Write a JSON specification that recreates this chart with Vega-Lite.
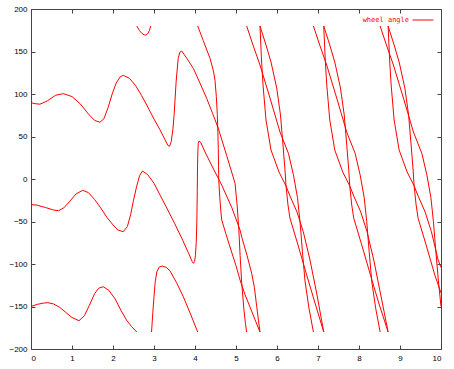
{
"$schema": "https://vega.github.io/schema/vega-lite/v6.json",
"width": 410, "height": 340,
"autosize": {"type": "none"},
"padding": {"left": 31, "top": 9, "right": 13, "bottom": 20},
"background": "white",
"config": {
  "view": {"stroke": "#444", "strokeWidth": 1},
  "axis": {"domain": false, "grid": false, "ticks": true, "tickColor": "#444", "tickSize": -4, "labelFont": "Liberation Sans", "labelFontSize": 8, "labelColor": "#000", "title": null}
},
"data": {"values": [
{"s":"a0","t":0,"a":89.8},{"s":"a0","t":0.1,"a":88.6},{"s":"a0","t":0.22,"a":88},{"s":"a0","t":0.4,"a":92},{"s":"a0","t":0.6,"a":98.5},{"s":"a0","t":0.79,"a":100.4},{"s":"a0","t":1.0,"a":97},{"s":"a0","t":1.2,"a":88.5},{"s":"a0","t":1.4,"a":76.5},{"s":"a0","t":1.55,"a":69},{"s":"a0","t":1.68,"a":66.7},{"s":"a0","t":1.78,"a":71},{"s":"a0","t":1.88,"a":84},{"s":"a0","t":1.98,"a":100},{"s":"a0","t":2.08,"a":113},{"s":"a0","t":2.17,"a":120},{"s":"a0","t":2.25,"a":122},{"s":"a0","t":2.4,"a":118.5},{"s":"a0","t":2.55,"a":110},{"s":"a0","t":2.7,"a":98},{"s":"a0","t":2.85,"a":84.5},{"s":"a0","t":3.0,"a":70.5},{"s":"a0","t":3.15,"a":57.6},{"s":"a0","t":3.27,"a":46},{"s":"a0","t":3.34,"a":39.5},{"s":"a0","t":3.38,"a":38.5},{"s":"a0","t":3.42,"a":44},{"s":"a0","t":3.46,"a":58},{"s":"a0","t":3.49,"a":75},{"s":"a0","t":3.54,"a":114.5},{"s":"a0","t":3.59,"a":142},{"s":"a0","t":3.63,"a":149},{"s":"a0","t":3.676,"a":150.6},{"s":"a0","t":3.8,"a":142},{"s":"a0","t":3.959,"a":130.2},{"s":"a0","t":4.12,"a":113},{"s":"a0","t":4.285,"a":94.9},{"s":"a0","t":4.43,"a":77},{"s":"a0","t":4.568,"a":59.6},{"s":"a0","t":4.77,"a":28},{"s":"a0","t":4.976,"a":-5},{"s":"a0","t":5.03,"a":-32},{"s":"a0","t":5.07,"a":-60},{"s":"a0","t":5.1,"a":-90},{"s":"a0","t":5.139,"a":-122},{"s":"a0","t":5.19,"a":-152},{"s":"a0","t":5.23,"a":-170},{"s":"a0","t":5.26,"a":-180},
{"s":"a1","t":5.26,"a":180},{"s":"a1","t":5.415,"a":157.6},{"s":"a1","t":5.585,"a":134.1},{"s":"a1","t":5.829,"a":95.3},{"s":"a1","t":6.073,"a":55.3},{"s":"a1","t":6.28,"a":30},{"s":"a1","t":6.4,"a":5},{"s":"a1","t":6.5,"a":-22},{"s":"a1","t":6.561,"a":-50},{"s":"a1","t":6.62,"a":-85},{"s":"a1","t":6.683,"a":-120},{"s":"a1","t":6.78,"a":-152},{"s":"a1","t":6.888,"a":-180},
{"s":"a2","t":6.888,"a":180},{"s":"a2","t":7.042,"a":157.6},{"s":"a2","t":7.212,"a":134.1},{"s":"a2","t":7.456,"a":95.3},{"s":"a2","t":7.7,"a":55.3},{"s":"a2","t":7.907,"a":30},{"s":"a2","t":8.027,"a":5},{"s":"a2","t":8.127,"a":-22},{"s":"a2","t":8.188,"a":-50},{"s":"a2","t":8.247,"a":-85},{"s":"a2","t":8.31,"a":-120},{"s":"a2","t":8.407,"a":-152},{"s":"a2","t":8.515,"a":-180},
{"s":"a3","t":8.515,"a":180},{"s":"a3","t":8.669,"a":157.6},{"s":"a3","t":8.839,"a":134.1},{"s":"a3","t":9.083,"a":95.3},{"s":"a3","t":9.327,"a":55.3},{"s":"a3","t":9.534,"a":30},{"s":"a3","t":9.654,"a":5},{"s":"a3","t":9.754,"a":-22},{"s":"a3","t":9.815,"a":-50},{"s":"a3","t":9.874,"a":-85},{"s":"a3","t":9.937,"a":-120},{"s":"a3","t":10,"a":-150},
{"s":"b0","t":0,"a":-30},{"s":"b0","t":0.15,"a":-30.8},{"s":"b0","t":0.35,"a":-33.5},{"s":"b0","t":0.55,"a":-36.5},{"s":"b0","t":0.67,"a":-37.3},{"s":"b0","t":0.8,"a":-34},{"s":"b0","t":0.95,"a":-26},{"s":"b0","t":1.1,"a":-17.5},{"s":"b0","t":1.26,"a":-13.3},{"s":"b0","t":1.4,"a":-16},{"s":"b0","t":1.55,"a":-24},{"s":"b0","t":1.7,"a":-34},{"s":"b0","t":1.85,"a":-45},{"s":"b0","t":2.0,"a":-54},{"s":"b0","t":2.12,"a":-60},{"s":"b0","t":2.25,"a":-62},{"s":"b0","t":2.35,"a":-56},{"s":"b0","t":2.43,"a":-42},{"s":"b0","t":2.5,"a":-25},{"s":"b0","t":2.58,"a":-8},{"s":"b0","t":2.65,"a":4},{"s":"b0","t":2.72,"a":9.4},{"s":"b0","t":2.85,"a":5},{"s":"b0","t":3.0,"a":-5},{"s":"b0","t":3.146,"a":-18.8},{"s":"b0","t":3.3,"a":-33},{"s":"b0","t":3.5,"a":-52},{"s":"b0","t":3.7,"a":-72},{"s":"b0","t":3.85,"a":-88},{"s":"b0","t":3.93,"a":-97},{"s":"b0","t":3.96,"a":-99.2},{"s":"b0","t":3.99,"a":-97},{"s":"b0","t":4.01,"a":-90},{"s":"b0","t":4.03,"a":-75},{"s":"b0","t":4.045,"a":-50},{"s":"b0","t":4.055,"a":-15},{"s":"b0","t":4.062,"a":15},{"s":"b0","t":4.07,"a":32},{"s":"b0","t":4.08,"a":42},{"s":"b0","t":4.1,"a":44.7},{"s":"b0","t":4.14,"a":43},{"s":"b0","t":4.244,"a":31.8},{"s":"b0","t":4.439,"a":12.9},{"s":"b0","t":4.651,"a":-7.1},{"s":"b0","t":4.902,"a":-34.1},{"s":"b0","t":5.098,"a":-60},{"s":"b0","t":5.15,"a":-70},{"s":"b0","t":5.27,"a":-90},{"s":"b0","t":5.383,"a":-111},{"s":"b0","t":5.45,"a":-128},{"s":"b0","t":5.505,"a":-150},{"s":"b0","t":5.55,"a":-167},{"s":"b0","t":5.585,"a":-180},
{"s":"b1","t":5.585,"a":180},{"s":"b1","t":5.622,"a":140},{"s":"b1","t":5.659,"a":110.6},{"s":"b1","t":5.732,"a":69.4},{"s":"b1","t":5.854,"a":34.1},{"s":"b1","t":6.049,"a":8.2},{"s":"b1","t":6.22,"a":-8.2},{"s":"b1","t":6.317,"a":-20},{"s":"b1","t":6.488,"a":-38.8},{"s":"b1","t":6.641,"a":-62},{"s":"b1","t":6.805,"a":-95.3},{"s":"b1","t":6.976,"a":-136.5},{"s":"b1","t":7.14,"a":-180},
{"s":"b2","t":7.14,"a":180},{"s":"b2","t":7.177,"a":140},{"s":"b2","t":7.214,"a":110.6},{"s":"b2","t":7.287,"a":69.4},{"s":"b2","t":7.409,"a":34.1},{"s":"b2","t":7.604,"a":8.2},{"s":"b2","t":7.775,"a":-8.2},{"s":"b2","t":7.872,"a":-20},{"s":"b2","t":8.043,"a":-38.8},{"s":"b2","t":8.196,"a":-62},{"s":"b2","t":8.36,"a":-95.3},{"s":"b2","t":8.531,"a":-136.5},{"s":"b2","t":8.71,"a":-180},
{"s":"b3","t":8.71,"a":180},{"s":"b3","t":8.747,"a":140},{"s":"b3","t":8.784,"a":110.6},{"s":"b3","t":8.857,"a":69.4},{"s":"b3","t":8.979,"a":34.1},{"s":"b3","t":9.174,"a":8.2},{"s":"b3","t":9.345,"a":-8.2},{"s":"b3","t":9.442,"a":-20},{"s":"b3","t":9.613,"a":-38.8},{"s":"b3","t":9.766,"a":-62},{"s":"b3","t":9.93,"a":-95.3},{"s":"b3","t":10,"a":-104},
{"s":"c0","t":0,"a":-150},{"s":"c0","t":0.15,"a":-147.5},{"s":"c0","t":0.3,"a":-146},{"s":"c0","t":0.41,"a":-145.5},{"s":"c0","t":0.55,"a":-147},{"s":"c0","t":0.7,"a":-151},{"s":"c0","t":0.85,"a":-157},{"s":"c0","t":1.0,"a":-163},{"s":"c0","t":1.17,"a":-166.7},{"s":"c0","t":1.3,"a":-161},{"s":"c0","t":1.42,"a":-149},{"s":"c0","t":1.55,"a":-135},{"s":"c0","t":1.65,"a":-128.5},{"s":"c0","t":1.76,"a":-126.7},{"s":"c0","t":1.9,"a":-131},{"s":"c0","t":2.05,"a":-141},{"s":"c0","t":2.2,"a":-155},{"s":"c0","t":2.33,"a":-166},{"s":"c0","t":2.45,"a":-173.5},{"s":"c0","t":2.58,"a":-180},
{"s":"c1","t":2.58,"a":180},{"s":"c1","t":2.64,"a":175},{"s":"c1","t":2.7,"a":171.5},{"s":"c1","t":2.76,"a":169.6},{"s":"c1","t":2.8,"a":169.3},{"s":"c1","t":2.85,"a":171},{"s":"c1","t":2.89,"a":175},{"s":"c1","t":2.92,"a":180},
{"s":"c2","t":2.94,"a":-180},{"s":"c2","t":2.97,"a":-158},{"s":"c2","t":3.0,"a":-138},{"s":"c2","t":3.03,"a":-121},{"s":"c2","t":3.07,"a":-109},{"s":"c2","t":3.13,"a":-103.5},{"s":"c2","t":3.2,"a":-102.4},{"s":"c2","t":3.3,"a":-104},{"s":"c2","t":3.39,"a":-108},{"s":"c2","t":3.55,"a":-122},{"s":"c2","t":3.715,"a":-138.5},{"s":"c2","t":3.9,"a":-160},{"s":"c2","t":4.066,"a":-180},
{"s":"c3","t":4.066,"a":180},{"s":"c3","t":4.2,"a":163},{"s":"c3","t":4.366,"a":142},{"s":"c3","t":4.45,"a":127},{"s":"c3","t":4.488,"a":116},{"s":"c3","t":4.52,"a":97},{"s":"c3","t":4.544,"a":76},{"s":"c3","t":4.558,"a":55},{"s":"c3","t":4.568,"a":36},{"s":"c3","t":4.574,"a":15},{"s":"c3","t":4.58,"a":-2},{"s":"c3","t":4.605,"a":-22},{"s":"c3","t":4.634,"a":-40},{"s":"c3","t":4.651,"a":-48},{"s":"c3","t":4.75,"a":-64},{"s":"c3","t":4.854,"a":-80},{"s":"c3","t":5.0,"a":-102},{"s":"c3","t":5.098,"a":-118.8},{"s":"c3","t":5.22,"a":-136},{"s":"c3","t":5.341,"a":-150.6},{"s":"c3","t":5.46,"a":-165},{"s":"c3","t":5.585,"a":-180},
{"s":"c4","t":5.585,"a":180},{"s":"c4","t":5.732,"a":157.6},{"s":"c4","t":5.854,"a":137.6},{"s":"c4","t":5.993,"a":107.1},{"s":"c4","t":6.085,"a":75.3},{"s":"c4","t":6.146,"a":40},{"s":"c4","t":6.195,"a":10.6},{"s":"c4","t":6.22,"a":-8.2},{"s":"c4","t":6.268,"a":-30.6},{"s":"c4","t":6.317,"a":-46.2},{"s":"c4","t":6.512,"a":-77.6},{"s":"c4","t":6.724,"a":-112.9},{"s":"c4","t":6.927,"a":-145.9},{"s":"c4","t":7.14,"a":-180},
{"s":"c5","t":7.14,"a":180},{"s":"c5","t":7.287,"a":157.6},{"s":"c5","t":7.409,"a":137.6},{"s":"c5","t":7.548,"a":107.1},{"s":"c5","t":7.64,"a":75.3},{"s":"c5","t":7.701,"a":40},{"s":"c5","t":7.75,"a":10.6},{"s":"c5","t":7.775,"a":-8.2},{"s":"c5","t":7.823,"a":-30.6},{"s":"c5","t":7.872,"a":-46.2},{"s":"c5","t":8.067,"a":-77.6},{"s":"c5","t":8.279,"a":-112.9},{"s":"c5","t":8.482,"a":-145.9},{"s":"c5","t":8.71,"a":-180},
{"s":"c6","t":8.71,"a":180},{"s":"c6","t":8.857,"a":157.6},{"s":"c6","t":8.979,"a":137.6},{"s":"c6","t":9.118,"a":107.1},{"s":"c6","t":9.21,"a":75.3},{"s":"c6","t":9.271,"a":40},{"s":"c6","t":9.32,"a":10.6},{"s":"c6","t":9.345,"a":-8.2},{"s":"c6","t":9.393,"a":-30.6},{"s":"c6","t":9.442,"a":-46.2},{"s":"c6","t":9.637,"a":-77.6},{"s":"c6","t":9.849,"a":-112.9},{"s":"c6","t":10,"a":-134}
]},
"layer": [
  {
    "mark": {"type": "line", "strokeWidth": 1},
    "encoding": {
      "x": {"field": "t", "type": "quantitative", "scale": {"domain": [0, 10], "nice": false, "zero": false},
            "axis": {"orient": "bottom", "values": [0,1,2,3,4,5,6,7,8,9,10], "labelPadding": 9}},
      "y": {"field": "a", "type": "quantitative", "scale": {"domain": [-200, 200], "nice": false, "zero": false},
            "axis": {"orient": "left", "values": [-200,-150,-100,-50,0,50,100,150,200], "labelPadding": 8}},
      "detail": {"field": "s"},
      "color": {"datum": "wheel angle", "scale": {"range": ["#ff0000"]},
        "legend": {"orient": "none", "legendX": 381, "legendY": 0, "title": null, "padding": 0,
                   "symbolType": "stroke", "symbolSize": 441, "symbolStrokeWidth": 1, "symbolStrokeColor": "#ff0000",
                   "labelColor": "#ff0000", "labelFont": "DejaVu Sans Mono", "labelFontSize": 7,
                   "labelAlign": "right", "labelOffset": -25}}
    }
  },
  {
    "mark": {"type": "line", "opacity": 0},
    "encoding": {
      "x": {"field": "t", "type": "quantitative", "axis": {"orient": "top", "values": [0,1,2,3,4,5,6,7,8,9,10], "labels": false}},
      "y": {"field": "a", "type": "quantitative", "axis": {"orient": "right", "values": [-200,-150,-100,-50,0,50,100,150,200], "labels": false}},
      "detail": {"field": "s"}
    }
  }
],
"resolve": {"axis": {"x": "independent", "y": "independent"}}
}
